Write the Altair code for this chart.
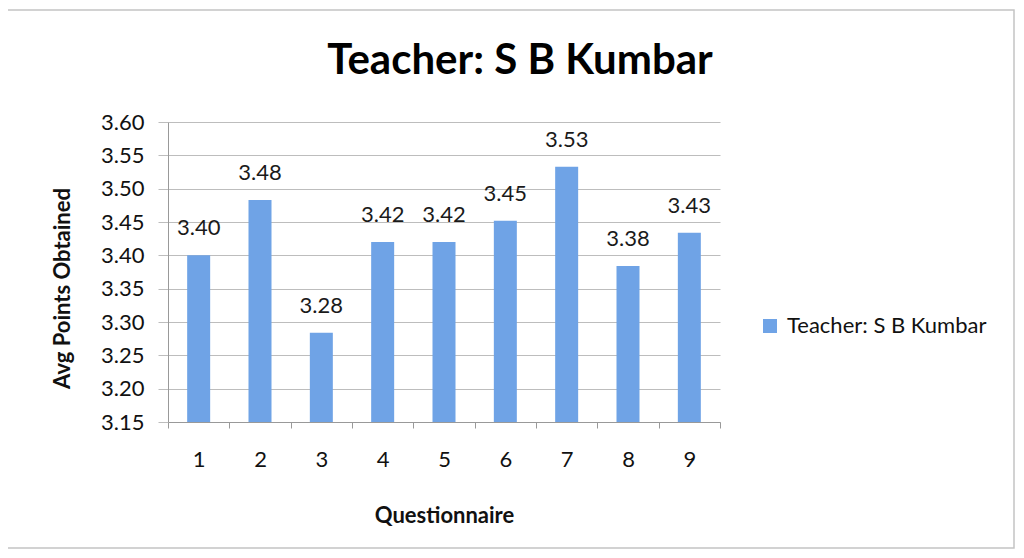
import altair as alt
import pandas as pd

questions = ["1", "2", "3", "4", "5", "6", "7", "8", "9"]
avg_points = [3.400, 3.483, 3.284, 3.420, 3.420, 3.452, 3.533, 3.384, 3.434]
series_name = "Teacher: S B Kumbar"
y_ticks = [3.15, 3.20, 3.25, 3.30, 3.35, 3.40, 3.45, 3.50, 3.55, 3.60]
y_min, y_max = 3.15, 3.60

df = pd.DataFrame({
    "Questionnaire": questions,
    "Avg": avg_points,
    "Series": [series_name] * len(questions),
    "Base": [y_min] * len(questions),
})

FONT = "Lato"
BAR = "#6FA3E6"
GRID = "#bdbdbd"

x_axis = alt.Axis(title="Questionnaire", labelAngle=0, labelFont=FONT,
                  labelFontSize=22, labelColor="#111", labelPadding=21,
                  tickBand="extent", tickSize=6, tickColor="#999",
                  domainColor="#999", titleFont=FONT, titleFontSize=22,
                  titleFontWeight="bold", titleColor="#111",
                  titleY=93, titleBaseline="middle")
y_axis = alt.Axis(title="Avg Points Obtained", values=y_ticks, format=".2f",
                  labelOverlap=False, labelFlush=False, tickCount=10,
                  labelFont=FONT, labelFontSize=22, labelColor="#111",
                  labelPadding=14, tickSize=10, tickColor=GRID,
                  domainColor="#999", gridColor=GRID,
                  titleFont=FONT, titleFontSize=22, titleFontWeight="bold",
                  titleColor="#111", titleX=-106, titleY=166,
                  titleAngle=270, titleAlign="center", titleBaseline="middle")
x_scale = alt.Scale(paddingInner=0, paddingOuter=0)
y_scale = alt.Scale(domain=[y_min, y_max], zero=False, nice=False)

frame = alt.Chart(pd.DataFrame({"k": [0]})).mark_rect(
    fill="transparent", stroke="#c4c4c4", strokeWidth=1.5
).encode(x=alt.value(-161), x2=alt.value(846), y=alt.value(-112), y2=alt.value(426))

bars = alt.Chart(df).mark_bar(size=23).encode(
    x=alt.X("Questionnaire:O", sort=questions, scale=x_scale, axis=x_axis),
    y=alt.Y("Avg:Q", scale=y_scale, axis=y_axis),
    y2="Base:Q",
    color=alt.Color("Series:N", scale=alt.Scale(range=[BAR]),
                    legend=alt.Legend(title=None, orient="none", legendX=591,
                                      legendY=193, symbolType="square",
                                      symbolSize=196, symbolStrokeWidth=0,
                                      labelOffset=6,
                                      labelFont=FONT, labelFontSize=22,
                                      labelLimit=400,
                                      labelColor="#111", padding=0)),
)

labels = alt.Chart(df).mark_text(
    baseline="middle", dy=-27, font=FONT, fontSize=22, color="#1a1a1a"
).encode(
    x=alt.X("Questionnaire:O", sort=questions, scale=x_scale, axis=x_axis),
    y=alt.Y("Avg:Q", scale=y_scale, axis=y_axis),
    text=alt.Text("Avg:Q", format=".2f"),
)

chart = alt.layer(frame, bars, labels).properties(
    width=552, height=300,
    title=alt.TitleParams(series_name, anchor="middle", frame="group", dx=76,
                          offset=-74, font=FONT, fontSize=42, fontWeight="bold",
                          color="#000"),
    autosize=alt.AutoSizeParams(type="none"),
    padding={"left": 160, "top": 114, "right": 296, "bottom": 128},
).configure_view(strokeWidth=0).configure_axis(labelOverlap=False)

chart.save("out.html", embed_options={"renderer": "svg", "actions": False})
